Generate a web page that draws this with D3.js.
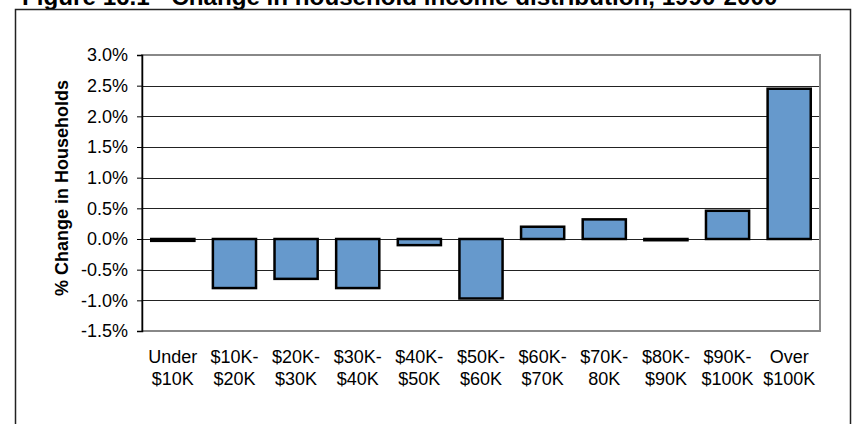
<!DOCTYPE html>
<html>
<head>
<meta charset="utf-8">
<script src="https://cdn.jsdelivr.net/npm/d3@7"></script>
<style>
  body { margin: 0; background: #fff; }
  svg { display: block; font-family: "Liberation Sans", Arial, sans-serif; }
</style>
</head>
<body>
<div id="chart"></div>
<script>
// income brackets (two-line labels) and % change 1990-2000
const brackets = ["Under $10K", "$10K- $20K", "$20K- $30K", "$30K- $40K", "$40K- $50K",
  "$50K- $60K", "$60K- $70K", "$70K- 80K", "$80K- $90K", "$90K- $100K", "Over $100K"];
const labelTop = ["Under", "$10K-", "$20K-", "$30K-", "$40K-", "$50K-", "$60K-", "$70K-", "$80K-", "$90K-", "Over"];
const labelBottom = ["$10K", "$20K", "$30K", "$40K", "$50K", "$60K", "$70K", "80K", "$90K", "$100K", "$100K"];
const changes = [-0.03, -0.80, -0.65, -0.80, -0.10, -0.97, 0.20, 0.32, -0.02, 0.46, 2.45];
const yTicks = [3.0, 2.5, 2.0, 1.5, 1.0, 0.5, 0.0, -0.5, -1.0, -1.5];

const W = 852, H = 424;
const plot = { left: 142, right: 820, top: 55, bottom: 331 };

const svg = d3.select("#chart").append("svg")
  .attr("width", W).attr("height", H);

// title, mostly clipped at top like the source
svg.append("text")
  .attr("x", 22).attr("y", 5)
  .attr("font-size", 24.2).attr("font-weight", "bold")
  .text("Figure 16.1 - Change in household income distribution, 1990-2000");

// outer frame
svg.append("rect")
  .attr("x", 15.5).attr("y", 9.5)
  .attr("width", 835).attr("height", 430)
  .attr("fill", "none").attr("stroke", "#222").attr("stroke-width", 1.5);

const x = d3.scaleBand().domain(brackets)
  .range([plot.left, plot.right]).paddingInner(0.3).paddingOuter(0.15);
const y = d3.scaleLinear().domain([-1.5, 3.0]).range([plot.bottom, plot.top]);

// gridlines
svg.append("g").selectAll("line")
  .data(yTicks.slice(1, -1))
  .join("line")
  .attr("x1", plot.left).attr("x2", plot.right)
  .attr("y1", d => Math.round(y(d)) + 0.5).attr("y2", d => Math.round(y(d)) + 0.5)
  .attr("stroke", "#222").attr("stroke-width", 1);

// plot border
svg.append("rect")
  .attr("x", plot.left).attr("y", plot.top)
  .attr("width", plot.right - plot.left).attr("height", plot.bottom - plot.top)
  .attr("fill", "none").attr("stroke", "#888").attr("stroke-width", 2);

// y axis
const yAxis = svg.append("g")
  .attr("transform", `translate(${plot.left},0)`)
  .call(d3.axisLeft(y).tickValues(yTicks).tickSize(5).tickPadding(9)
    .tickFormat(d => d.toFixed(1) + "%"));
yAxis.select(".domain").attr("stroke", "#000").attr("stroke-width", 1.5);
yAxis.selectAll(".tick line").attr("stroke", "#000");
yAxis.selectAll("text").attr("font-size", 18).attr("fill", "#000")
  .attr("font-family", "Liberation Sans, Arial, sans-serif");

svg.append("text")
  .attr("transform", `translate(68,188) rotate(-90)`)
  .attr("text-anchor", "middle")
  .attr("font-size", 18).attr("font-weight", "bold")
  .text("% Change in Households");

// bars
svg.append("g").selectAll("rect")
  .data(changes)
  .join("rect")
  .attr("x", (d, i) => x(brackets[i]))
  .attr("width", x.bandwidth())
  .attr("y", d => y(Math.max(0, d)))
  .attr("height", d => Math.abs(y(d) - y(0)))
  .attr("fill", "#6699cc")
  .attr("stroke", "#000").attr("stroke-width", 2.5);

// x labels, two lines each
const xl = svg.append("g").selectAll("text")
  .data(brackets)
  .join("text")
  .attr("text-anchor", "middle")
  .attr("font-size", 18);
xl.append("tspan").attr("x", d => x(d) + x.bandwidth() / 2).attr("y", 363)
  .text((d, i) => labelTop[i]);
xl.append("tspan").attr("x", d => x(d) + x.bandwidth() / 2).attr("y", 385)
  .text((d, i) => labelBottom[i]);
</script>
</body>
</html>
